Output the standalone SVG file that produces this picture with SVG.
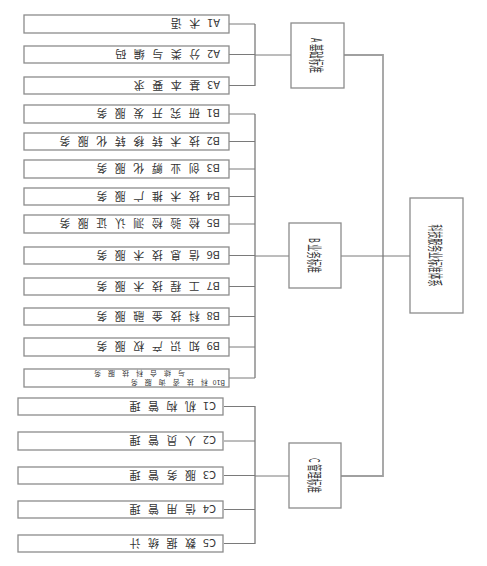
<svg xmlns="http://www.w3.org/2000/svg" width="487" height="566" viewBox="0 0 487 566">
<style>
.bx{fill:#fff;stroke:#8c8c8c;stroke-width:1.3}
.ln{fill:none;stroke:#7a7a7a;stroke-width:1}
.bus{fill:none;stroke:#a0a0a0;stroke-width:1.8}
text{font-family:"Noto Sans CJK SC","Liberation Sans",sans-serif;fill:#333;dominant-baseline:central}
.lf{font-size:11px}
.cj{letter-spacing:7.5px}
.sm{font-size:7px}
.sm .cj{letter-spacing:7px}
.mid{font-size:15px;text-anchor:middle}
</style>
<rect width="487" height="566" fill="#fff"/>
<g id="connectors">
<path class="bus" d="M255 24V86M255 114V378M255 406V544"/>
<path class="ln" d="M229 24H255M229 54.5H255M229 85.5H255M255 55H291"/>
<path class="ln" d="M229 114H255M229 141.5H255M229 169H255M229 196.5H255M229 224H255M229 255.5H255M229 286.5H255M229 316.5H255M229 347H255M229 378H255M255 256H289"/>
<path class="ln" d="M224 406.5H255M224 441H255M224 475.5H255M224 509.5H255M224 543.5H255M255 476H289"/>
<path class="bus" d="M344 55H383V476H341"/>
<path class="ln" d="M341 256H410"/>
</g>
<g id="root"><rect class="bx" x="410" y="198" width="53" height="115"/><text class="mid" font-size="16" transform="translate(436.5 255.5) rotate(90)" textLength="62" lengthAdjust="spacingAndGlyphs">科技服务业标准体系</text></g>
<g id="A"><rect class="bx" x="291" y="23" width="53" height="65"/><text class="mid" transform="translate(317.5 55.5) rotate(90)" textLength="35" lengthAdjust="spacingAndGlyphs">A 基础标准</text></g>
<g id="B"><rect class="bx" x="289" y="223" width="52" height="65"/><text class="mid" transform="translate(315 255.5) rotate(90)" textLength="35" lengthAdjust="spacingAndGlyphs">B 业务标准</text></g>
<g id="C"><rect class="bx" x="289" y="443" width="52" height="65"/><text class="mid" transform="translate(315 475.5) rotate(90)" textLength="35" lengthAdjust="spacingAndGlyphs">C 管理标准</text></g>
<g id="A1"><rect class="bx" x="24" y="15" width="205" height="18"/><text class="lf" transform="translate(220 24) rotate(180)">A1<tspan class="cj" dx="7">术语</tspan></text></g>
<g id="A2"><rect class="bx" x="24" y="46" width="205" height="17"/><text class="lf" transform="translate(220 54.5) rotate(180)">A2<tspan class="cj" dx="7">分类与编码</tspan></text></g>
<g id="A3"><rect class="bx" x="24" y="77" width="205" height="17"/><text class="lf" transform="translate(220 85.5) rotate(180)">A3<tspan class="cj" dx="7">基本要求</tspan></text></g>
<g id="B1"><rect class="bx" x="24" y="105" width="205" height="18"/><text class="lf" transform="translate(220 114) rotate(180)">B1<tspan class="cj" dx="7">研究开发服务</tspan></text></g>
<g id="B2"><rect class="bx" x="24" y="133" width="205" height="17"/><text class="lf" transform="translate(220 141.5) rotate(180)">B2<tspan class="cj" dx="7">技术转移转化服务</tspan></text></g>
<g id="B3"><rect class="bx" x="24" y="160" width="205" height="18"/><text class="lf" transform="translate(220 169) rotate(180)">B3<tspan class="cj" dx="7">创业孵化服务</tspan></text></g>
<g id="B4"><rect class="bx" x="24" y="188" width="205" height="17"/><text class="lf" transform="translate(220 196.5) rotate(180)">B4<tspan class="cj" dx="7">技术推广服务</tspan></text></g>
<g id="B5"><rect class="bx" x="24" y="215" width="205" height="18"/><text class="lf" transform="translate(220 224) rotate(180)">B5<tspan class="cj" dx="7">检验检测认证服务</tspan></text></g>
<g id="B6"><rect class="bx" x="24" y="247" width="205" height="17"/><text class="lf" transform="translate(220 255.5) rotate(180)">B6<tspan class="cj" dx="7">信息技术服务</tspan></text></g>
<g id="B7"><rect class="bx" x="24" y="278" width="205" height="17"/><text class="lf" transform="translate(220 286.5) rotate(180)">B7<tspan class="cj" dx="7">工程技术服务</tspan></text></g>
<g id="B8"><rect class="bx" x="24" y="308" width="205" height="17"/><text class="lf" transform="translate(220 316.5) rotate(180)">B8<tspan class="cj" dx="7">科技金融服务</tspan></text></g>
<g id="B9"><rect class="bx" x="24" y="338" width="205" height="18"/><text class="lf" transform="translate(220 347) rotate(180)">B9<tspan class="cj" dx="7">知识产权服务</tspan></text></g>
<g id="B10"><rect class="bx" x="24" y="369" width="205" height="18"/><text class="lf sm" transform="translate(225 378) rotate(180)"><tspan x="0" y="-4.5">B10</tspan><tspan class="cj" dx="5">科技咨询服务</tspan><tspan x="40" y="4.5" class="cj">与综合科技服务</tspan></text></g>
<g id="C1"><rect class="bx" x="18" y="398" width="205" height="17"/><text class="lf" transform="translate(216 406.5) rotate(180)">C1<tspan class="cj" dx="7">机构管理</tspan></text></g>
<g id="C2"><rect class="bx" x="18" y="432" width="205" height="18"/><text class="lf" transform="translate(216 441) rotate(180)">C2<tspan class="cj" dx="7">人员管理</tspan></text></g>
<g id="C3"><rect class="bx" x="18" y="467" width="205" height="17"/><text class="lf" transform="translate(216 475.5) rotate(180)">C3<tspan class="cj" dx="7">服务管理</tspan></text></g>
<g id="C4"><rect class="bx" x="18" y="501" width="205" height="17"/><text class="lf" transform="translate(216 509.5) rotate(180)">C4<tspan class="cj" dx="7">信用管理</tspan></text></g>
<g id="C5"><rect class="bx" x="18" y="535" width="205" height="17"/><text class="lf" transform="translate(216 543.5) rotate(180)">C5<tspan class="cj" dx="7">数据统计</tspan></text></g>
</svg>
